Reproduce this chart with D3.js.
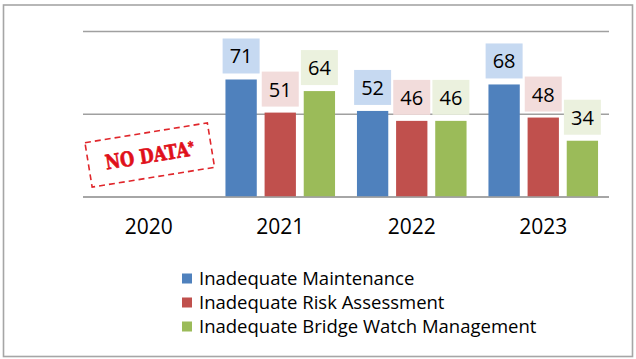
<!doctype html>
<html lang="en">
<head>
<meta charset="utf-8">
<title>Findings by year</title>
<script src="https://cdn.jsdelivr.net/npm/d3@7"></script>
<style>
  body { margin: 0; background: #fff; }
  text { font-family: "Open Sans", "Noto Sans", sans-serif; }
</style>
</head>
<body>
<script>

// Data
var years = ["2020", "2021", "2022", "2023"];
var seriesNames = ["Inadequate Maintenance", "Inadequate Risk Assessment", "Inadequate Bridge Watch Management"];
var maintenance = [null, 71, 52, 68];
var riskAssessment = [null, 51, 46, 48];
var bridgeWatch = [null, 64, 46, 34];
var gridValues = [0, 50, 100];

var colors = ["#4f81bd", "#c0504d", "#9bbb59"];
var labelFills = ["#c6d9f1", "#f2dcdb", "#ebf1de"];

var width = 636, height = 359;
var plot = {left: 83, right: 609, top: 31.5, bottom: 197};

var svg = d3.select("body").append("svg")
  .attr("width", width)
  .attr("height", height);

// outer frame
svg.append("rect")
  .attr("x", 3.5).attr("y", 5)
  .attr("width", 629).attr("height", 351.5)
  .attr("fill", "#fff")
  .attr("stroke", "#a6a6a6")
  .attr("stroke-width", 1.6);

// Scales
var x0 = d3.scaleBand()
  .domain(years)
  .range([plot.left, plot.right]);

var x1 = d3.scaleBand()
  .domain(seriesNames)
  .range([0, x0.bandwidth()])
  .paddingInner(0.2)
  .paddingOuter(0.28);

var y = d3.scaleLinear()
  .domain([0, 100])
  .range([plot.bottom, plot.top]);

// gridlines
svg.append("g")
  .selectAll("line")
  .data(gridValues)
  .enter().append("line")
  .attr("x1", plot.left).attr("x2", plot.right)
  .attr("y1", function(d) { return y(d); })
  .attr("y2", function(d) { return y(d); })
  .attr("stroke", "#a0a0a0")
  .attr("stroke-width", 1.6);

// Build rows
var allSeries = [maintenance, riskAssessment, bridgeWatch];
var rows = [];
years.forEach(function(yr, i) {
  allSeries.forEach(function(s, j) {
    if (s[i] != null) rows.push({year: yr, series: seriesNames[j], idx: j, value: s[i]});
  });
});

// bars
svg.append("g")
  .selectAll("rect")
  .data(rows)
  .enter().append("rect")
  .attr("x", function(d) { return x0(d.year) + x1(d.series); })
  .attr("y", function(d) { return y(d.value); })
  .attr("width", x1.bandwidth())
  .attr("height", function(d) { return y(0) - y(d.value); })
  .attr("fill", function(d) { return colors[d.idx]; });

// redraw baseline on top
svg.append("line")
  .attr("x1", plot.left).attr("x2", plot.right)
  .attr("y1", y(0)).attr("y2", y(0))
  .attr("stroke", "#a0a0a0")
  .attr("stroke-width", 1.6);

// value labels with boxes
var labels = svg.append("g")
  .selectAll("g")
  .data(rows)
  .enter().append("g")
  .attr("transform", function(d) {
    var cx = x0(d.year) + x1(d.series) + x1.bandwidth() / 2;
    return "translate(" + cx + "," + (y(d.value) - 6) + ")";
  });

labels.append("rect")
  .attr("x", -18.5).attr("y", -35)
  .attr("width", 37).attr("height", 35)
  .attr("fill", function(d) { return labelFills[d.idx]; });

labels.append("text")
  .attr("text-anchor", "middle")
  .attr("y", -10)
  .style("font-size", "20px")
  .attr("fill", "#000")
  .text(function(d) { return d.value; });

// x axis labels
var xAxis = d3.axisBottom(x0).tickSize(0).tickPadding(0);
var axisG = svg.append("g")
  .attr("transform", "translate(0," + (plot.bottom + 36.5) + ")")
  .call(xAxis);
axisG.select(".domain").remove();
axisG.selectAll("text")
  .attr("dy", 0)
  .style("font-size", "21px")
  .style("font-family", "'Open Sans', sans-serif")
  .attr("fill", "#000");

// NO DATA stamp
var stamp = svg.append("g")
  .attr("transform", "translate(" + (x0("2020") + x0.bandwidth() / 2 + 1) + ",155) rotate(-9.2)");
stamp.append("rect")
  .attr("x", -62).attr("y", -22.5)
  .attr("width", 124).attr("height", 45)
  .attr("fill", "none")
  .attr("stroke", "#e0262b")
  .attr("stroke-width", 1.6)
  .attr("stroke-dasharray", "6,4");
var stampText = stamp.append("text")
  .attr("text-anchor", "middle")
  .attr("y", 7.5)
  .style("font-family", "'DejaVu Serif', serif")
  .style("font-weight", "bold")
  .style("font-size", "20px")
  .attr("textLength", 90)
  .attr("lengthAdjust", "spacingAndGlyphs")
  .attr("fill", "#e0101a")
  .attr("stroke", "#e0101a")
  .attr("stroke-width", 0.7);
stampText.append("tspan").text("NO DATA");
stampText.append("tspan")
  .attr("dy", -5)
  .style("font-size", "13px")
  .text("*");

// legend
var legend = svg.append("g")
  .selectAll("g")
  .data(seriesNames)
  .enter().append("g")
  .attr("transform", function(d, i) { return "translate(182," + (278.5 + i * 24) + ")"; });

legend.append("rect")
  .attr("x", 0).attr("y", -5)
  .attr("width", 10).attr("height", 10)
  .attr("fill", function(d, i) { return colors[i]; });

legend.append("text")
  .attr("x", 17)
  .attr("y", 6.5)
  .style("font-size", "18.5px")
  .attr("fill", "#000")
  .text(function(d) { return d; });

</script>
</body>
</html>
